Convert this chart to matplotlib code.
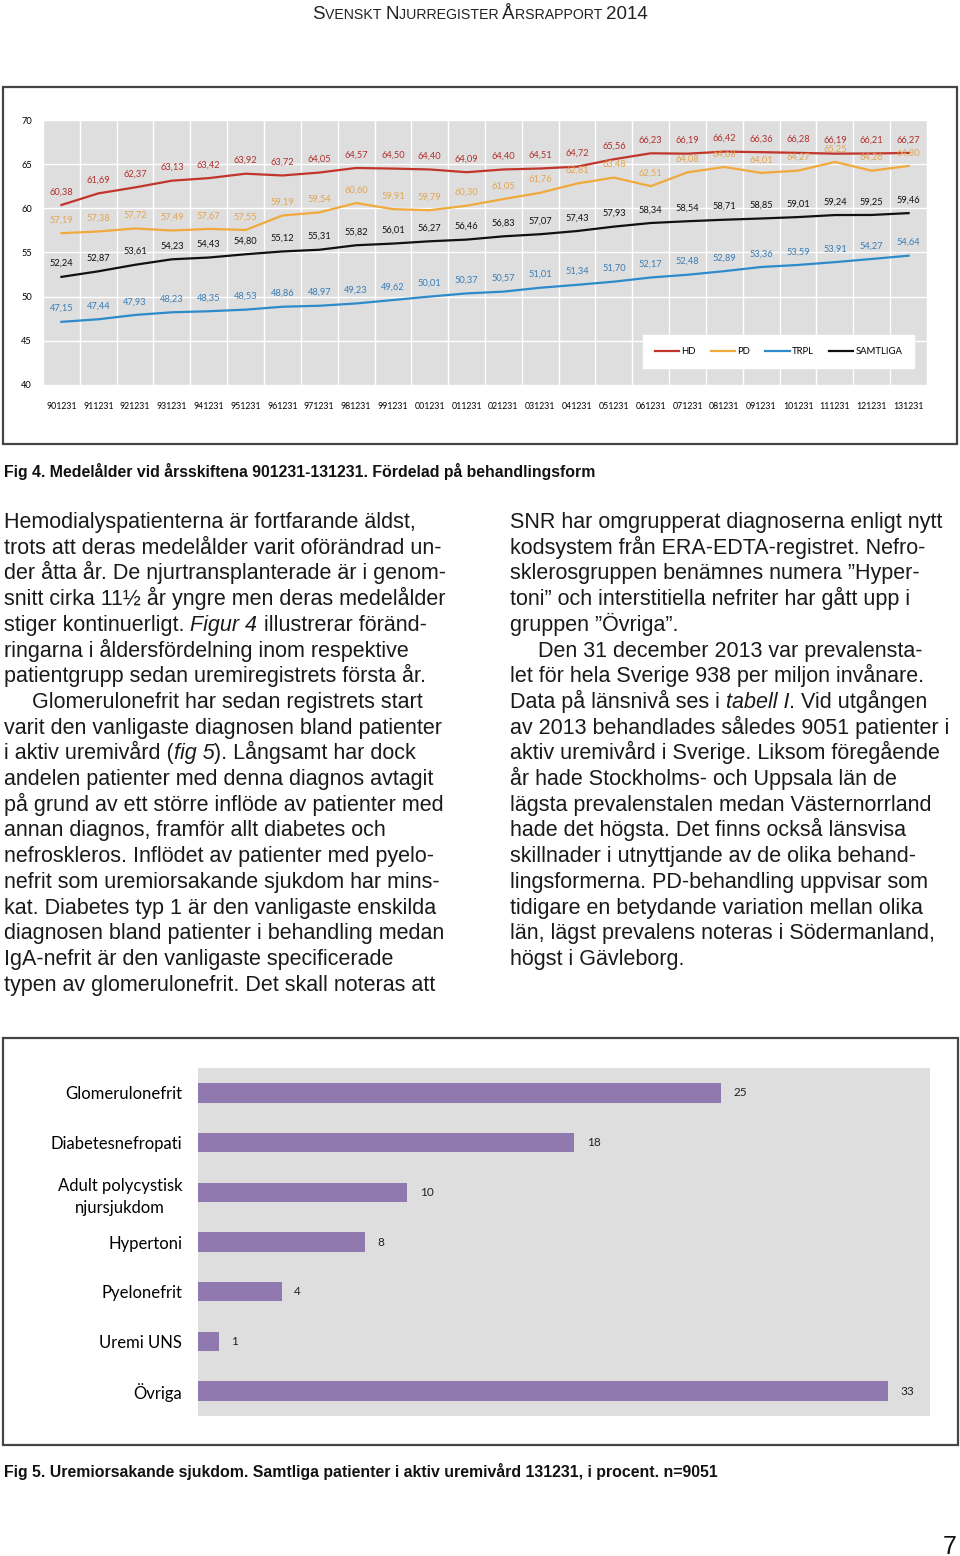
import matplotlib
matplotlib.use("Agg")
import matplotlib.pyplot as plt
from matplotlib.patches import Rectangle

# data
periods = ['901231', '911231', '921231', '931231', '941231', '951231',
           '961231', '971231', '981231', '991231', '001231', '011231',
           '021231', '031231', '041231', '051231', '061231', '071231',
           '081231', '091231', '101231', '111231', '121231', '131231']

hd = [60.38, 61.69, 62.37, 63.13, 63.42, 63.92, 63.72, 64.05, 64.57, 64.50,
      64.40, 64.09, 64.40, 64.51, 64.72, 65.56, 66.23, 66.19, 66.42, 66.36,
      66.28, 66.19, 66.21, 66.27]
pd_vals = [57.19, 57.38, 57.72, 57.49, 57.67, 57.55, 59.19, 59.54, 60.60, 59.91,
           59.79, 60.30, 61.05, 61.76, 62.81, 63.48, 62.51, 64.08, 64.68, 64.01,
           64.27, 65.25, 64.26, 64.80]
trpl = [47.15, 47.44, 47.93, 48.23, 48.35, 48.53, 48.86, 48.97, 49.23, 49.62,
        50.01, 50.37, 50.57, 51.01, 51.34, 51.70, 52.17, 52.48, 52.89, 53.36,
        53.59, 53.91, 54.27, 54.64]
samtliga = [52.24, 52.87, 53.61, 54.23, 54.43, 54.80, 55.12, 55.31, 55.82, 56.01,
            56.27, 56.46, 56.83, 57.07, 57.43, 57.93, 58.34, 58.54, 58.71, 58.85,
            59.01, 59.24, 59.25, 59.46]

diagnoses = ['Glomerulonefrit', 'Diabetesnefropati', 'Adult polycystisk\nnjursjukdom',
             'Hypertoni', 'Pyelonefrit', 'Uremi UNS', 'Övriga']
shares = [25, 18, 10, 8, 4, 1, 33]

left_col = [
    "Hemodialyspatienterna är fortfarande äldst,",
    "trots att deras medelålder varit oförändrad un-",
    "der åtta år. De njurtransplanterade är i genom-",
    "snitt cirka 11½ år yngre men deras medelålder",
    "stiger kontinuerligt. *Figur 4* illustrerar föränd-",
    "ringarna i åldersfördelning inom respektive",
    "patientgrupp sedan uremiregistrets första år.",
    "    Glomerulonefrit har sedan registrets start",
    "varit den vanligaste diagnosen bland patienter",
    "i aktiv uremivård (*fig 5*). Långsamt har dock",
    "andelen patienter med denna diagnos avtagit",
    "på grund av ett större inflöde av patienter med",
    "annan diagnos, framför allt diabetes och",
    "nefroskleros. Inflödet av patienter med pyelo-",
    "nefrit som uremiorsakande sjukdom har mins-",
    "kat. Diabetes typ 1 är den vanligaste enskilda",
    "diagnosen bland patienter i behandling medan",
    "IgA-nefrit är den vanligaste specificerade",
    "typen av glomerulonefrit. Det skall noteras att",
]
right_col = [
    "SNR har omgrupperat diagnoserna enligt nytt",
    "kodsystem från ERA-EDTA-registret. Nefro-",
    "sklerosgruppen benämnes numera ”Hyper-",
    "toni” och interstitiella nefriter har gått upp i",
    "gruppen ”Övriga”.",
    "    Den 31 december 2013 var prevalensta-",
    "let för hela Sverige 938 per miljon invånare.",
    "Data på länsnivå ses i *tabell I*. Vid utgången",
    "av 2013 behandlades således 9051 patienter i",
    "aktiv uremivård i Sverige. Liksom föregående",
    "år hade Stockholms- och Uppsala län de",
    "lägsta prevalenstalen medan Västernorrland",
    "hade det högsta. Det finns också länsvisa",
    "skillnader i utnyttjande av de olika behand-",
    "lingsformerna. PD-behandling uppvisar som",
    "tidigare en betydande variation mellan olika",
    "län, lägst prevalens noteras i Södermanland,",
    "högst i Gävleborg.",
]

W, H = 960, 1556
fig = plt.figure(figsize=(W / 100, H / 100), dpi=100)
renderer = fig.canvas.get_renderer()

CHART_FONT = 'Lato'
BODY_FONT = 'Liberation Sans'


def fx(px):
    return px / W


def fy(py):
    return 1 - py / H


def text_width(s, **kw):
    t = fig.text(0, 0, '|' + s + '|', **kw)
    w1 = t.get_window_extent(renderer).width
    t.set_text('||')
    w2 = t.get_window_extent(renderer).width
    t.remove()
    return w1 - w2


def draw_runs(x, y, runs, center=False):
    if center:
        x -= sum(text_width(s, **kw) for s, kw in runs) / 2
    for s, kw in runs:
        fig.text(fx(x), fy(y), s, ha='left', va='baseline', **kw)
        x += text_width(s, **kw)


def frame(x0, y0, x1, y1):
    fig.add_artist(Rectangle((fx(x0), fy(y1)), (x1 - x0) / W, (y1 - y0) / H,
                             transform=fig.transFigure, fill=False,
                             ec='#454545', lw=1.6))


def fmt(v):
    return f"{v:.2f}".replace('.', ',')


# header in small caps
big = dict(family=BODY_FONT, fontsize=13.5, color='#222222')
small = dict(family=BODY_FONT, fontsize=10.2, color='#222222')
draw_runs(480, 19, [('S', big), ('VENSKT ', small), ('N', big), ('JURREGISTER ', small),
                    ('Å', big), ('RSRAPPORT ', small), ('2014', big)], center=True)

# figure 4: line chart
frame(3, 87, 957, 444)
ax = fig.add_axes([fx(43), fy(385), 884 / W, 265 / H])
ax.set_facecolor('#DEDEDE')
x = list(range(len(periods)))
series = [
    (hd, '#C1352B', '#B0302C', 'HD'),
    (pd_vals, '#F0AA3C', '#E3A550', 'PD'),
    (trpl, '#2D8BCB', '#3A7DB6', 'TRPL'),
    (samtliga, '#111111', '#111111', 'SAMTLIGA'),
]
for vals, col, lcol, name in series:
    ax.plot(x, vals, color=col, lw=1.6, label=name)
    for i, v in zip(x, vals):
        ax.annotate(fmt(v), (i, v), xytext=(0, 9.5), textcoords='offset points',
                    ha='center', va='center', fontsize=6.7, color=lcol,
                    family=CHART_FONT)

ax.set_xlim(-0.5, len(periods) - 0.5)
ax.set_ylim(40, 70)
ax.set_yticks(range(40, 71, 5))
ax.set_xticks(x)
ax.set_xticklabels(periods)
ax.set_xticks([i - 0.5 for i in range(len(periods) + 1)], minor=True)
ax.grid(which='minor', axis='x', color='white', lw=1)
ax.grid(which='major', axis='y', color='white', lw=1)
ax.set_axisbelow(True)
ax.tick_params(which='both', length=0)
ax.tick_params(axis='y', pad=8, labelsize=6.7)
ax.tick_params(axis='x', pad=12, labelsize=6.3)
for lab in ax.get_xticklabels() + ax.get_yticklabels():
    lab.set_family(CHART_FONT)
for s in ax.spines.values():
    s.set_visible(False)

ax.legend(loc='center', bbox_to_anchor=(0.832, 0.126), ncol=4, frameon=True,
          facecolor='white', edgecolor='white', fancybox=False, framealpha=1,
          prop={'family': CHART_FONT, 'size': 6.8}, handlelength=2.6,
          handletextpad=0.2, columnspacing=1.6, borderpad=1.3)

cap = dict(family=BODY_FONT, fontsize=11.4, weight='bold', color='#111111')
fig.text(fx(4), fy(477), "Fig 4. Medelålder vid årsskiftena 901231-131231. Fördelad på behandlingsform",
         ha='left', va='baseline', **cap)

# body text
body = dict(family=BODY_FONT, fontsize=15.5, color='#1A1A1A')
body_it = dict(body, style='italic')


def draw_column(x0, lines):
    for n, line in enumerate(lines):
        xs = x0
        if line.startswith('    '):
            xs += 28
            line = line.strip()
        parts = line.split('*')
        runs = [(p, body_it if k % 2 else body) for k, p in enumerate(parts) if p]
        draw_runs(xs, 528 + n * 25.7, runs)


draw_column(4, left_col)
draw_column(510, right_col)

# figure 5: bar chart
frame(3, 1038, 958, 1445)
bx = fig.add_axes([fx(198), fy(1416), 732 / W, 348 / H])
bx.set_facecolor('#DEDEDE')
ypos = list(range(len(diagnoses)))
bx.barh(ypos, shares, height=0.39, color='#9079AE')
for i, v in zip(ypos, shares):
    bx.annotate(str(v), (v, i), xytext=(9, 0), textcoords='offset points',
                ha='left', va='center', fontsize=8.5, family=CHART_FONT, color='#222222')
bx.set_ylim(len(diagnoses) - 0.5, -0.5)
bx.set_xlim(0, 35)
bx.set_xticks([])
bx.set_yticks(ypos)
bx.set_yticklabels(diagnoses)
bx.tick_params(length=0, pad=11.5, labelsize=12)
for lab in bx.get_yticklabels():
    lab.set_family(CHART_FONT)
    lab.set_multialignment('center')
    lab.set_linespacing(1.5)
for s in bx.spines.values():
    s.set_visible(False)

fig.text(fx(4), fy(1477),
         "Fig 5. Uremiorsakande sjukdom. Samtliga patienter i aktiv uremivård 131231, i procent. n=9051",
         ha='left', va='baseline', **cap)

fig.text(fx(957), fy(1554), '7', ha='right', va='baseline',
         family=BODY_FONT, fontsize=18, color='#111111')

fig.savefig('out.png', dpi=100)
